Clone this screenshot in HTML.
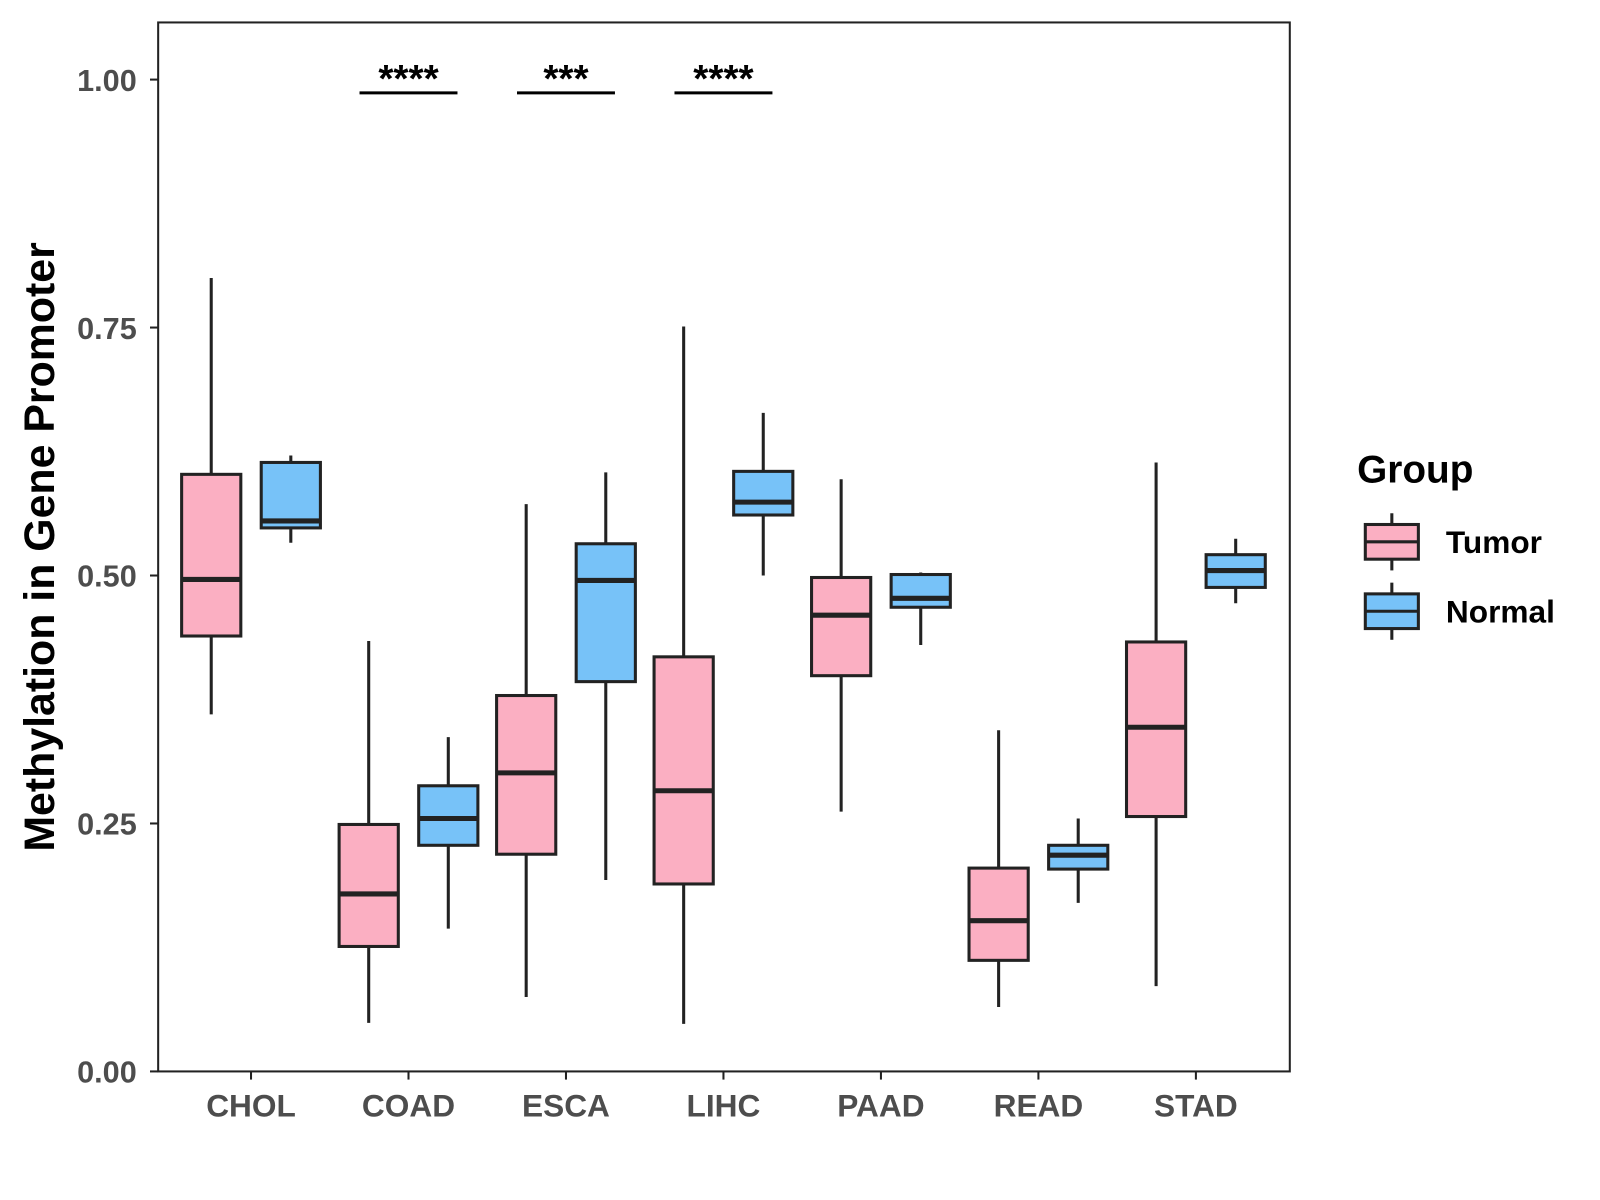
<!DOCTYPE html>
<html><head><meta charset="utf-8"><style>
html,body{margin:0;padding:0;background:#fff;}
svg{display:block;font-family:"Liberation Sans",Arial,sans-serif;}
</style></head><body>
<svg id="chart" width="1600" height="1200" viewBox="0 0 1568 1176">
<rect x="155" y="22" width="1109" height="1028" fill="#fff" stroke="#222" stroke-width="2"/>
<g id="marks"></g>
<g id="axes"></g>
<text transform="translate(53,536) rotate(-90)" text-anchor="middle" font-size="42" font-weight="bold" fill="#000">Methylation in Gene Promoter</text>
<g>
<text x="1330" y="473" font-size="38" font-weight="bold" fill="#000">Group</text>
<g>
<line x1="1364" y1="503" x2="1364" y2="559" stroke="#222" stroke-width="3"/>
<rect x="1338" y="514" width="52" height="34" fill="#fbafc2" stroke="#222" stroke-width="3"/>
<line x1="1338" y1="531" x2="1390" y2="531" stroke="#222" stroke-width="3"/>
<text x="1417" y="542" font-size="31" font-weight="bold" fill="#000">Tumor</text>
</g>
<g>
<line x1="1364" y1="571" x2="1364" y2="627" stroke="#222" stroke-width="3"/>
<rect x="1338" y="582" width="52" height="34" fill="#77c2f8" stroke="#222" stroke-width="3"/>
<line x1="1338" y1="599" x2="1390" y2="599" stroke="#222" stroke-width="3"/>
<text x="1417" y="610" font-size="31" font-weight="bold" fill="#000">Normal</text>
</g>
</g>
</svg>
<script>
const categories=["CHOL","COAD","ESCA","LIHC","PAAD","READ","STAD"];
const tumorMin=[0.360,0.049,0.075,0.048,0.262,0.065,0.086];
const tumorQ1=[0.439,0.126,0.219,0.189,0.399,0.112,0.257];
const tumorMed=[0.496,0.179,0.301,0.283,0.460,0.152,0.347];
const tumorQ3=[0.602,0.249,0.379,0.418,0.498,0.205,0.433];
const tumorMax=[0.800,0.434,0.572,0.751,0.597,0.344,0.614];
const normalMin=[0.533,0.144,0.193,0.500,0.430,0.170,0.472];
const normalQ1=[0.548,0.228,0.393,0.561,0.468,0.204,0.488];
const normalMed=[0.555,0.255,0.495,0.574,0.477,0.218,0.505];
const normalQ3=[0.614,0.288,0.532,0.605,0.501,0.228,0.521];
const normalMax=[0.621,0.337,0.604,0.664,0.503,0.255,0.537];
const yTicks=[0,0.25,0.5,0.75,1.0];
const yTickLabels=["0.00","0.25","0.50","0.75","1.00"];
const sigCats=["COAD","ESCA","LIHC"];
const sigLabels=["****","***","****"];

const NS="http://www.w3.org/2000/svg";
const y=v=>1050-v*972;
const x=i=>246+i*154.33;
const marks=document.getElementById('marks'),axes=document.getElementById('axes');
function mk(tag,attrs,parent){const e=document.createElementNS(NS,tag);for(const k in attrs)e.setAttribute(k,attrs[k]);parent.appendChild(e);return e;}
function box(cx,mn,q1,md,q3,mx,fill,name){
  const g=mk('g',{},marks);
  
  
  mk('line',{x1:cx,x2:cx,y1:y(mx),y2:y(mn),stroke:'#222','stroke-width':3},g);
  mk('rect',{x:cx-29,y:y(q3),width:58,height:y(q1)-y(q3),fill:fill,stroke:'#222','stroke-width':3},g);
  mk('line',{x1:cx-29,x2:cx+29,y1:y(md),y2:y(md),stroke:'#222','stroke-width':5},g);
}
categories.forEach((c,i)=>{
  box(x(i)-39,tumorMin[i],tumorQ1[i],tumorMed[i],tumorQ3[i],tumorMax[i],'#fbafc2','box-tumor-'+c.toLowerCase());
  box(x(i)+39,normalMin[i],normalQ1[i],normalMed[i],normalQ3[i],normalMax[i],'#77c2f8','box-normal-'+c.toLowerCase());
  mk('line',{x1:x(i),x2:x(i),y1:1050,y2:1058,stroke:'#222','stroke-width':2},axes);
  const t=mk('text',{x:x(i),y:1094,'text-anchor':'middle','font-size':31,'font-weight':'bold',fill:'#4d4d4d'},axes);
  t.textContent=c;
  
  
});
yTicks.forEach((v,i)=>{
  mk('line',{x1:147,x2:155,y1:y(v),y2:y(v),stroke:'#222','stroke-width':2},axes);
  const t=mk('text',{x:134,y:y(v)+11,'text-anchor':'end','font-size':30,'font-weight':'bold',fill:'#4d4d4d'},axes);
  t.textContent=yTickLabels[i];
  
  
});
sigCats.forEach((c,k)=>{
  const i=categories.indexOf(c);
  const g=mk('g',{},marks);
  
  
  mk('line',{x1:x(i)-48,x2:x(i)+48,y1:91,y2:91,stroke:'#000','stroke-width':3},g);
  const t=mk('text',{x:x(i),y:90,'text-anchor':'middle','font-size':38,'font-weight':'bold',fill:'#000'},g);
  t.textContent=sigLabels[k];
});
</script>
</body></html>
